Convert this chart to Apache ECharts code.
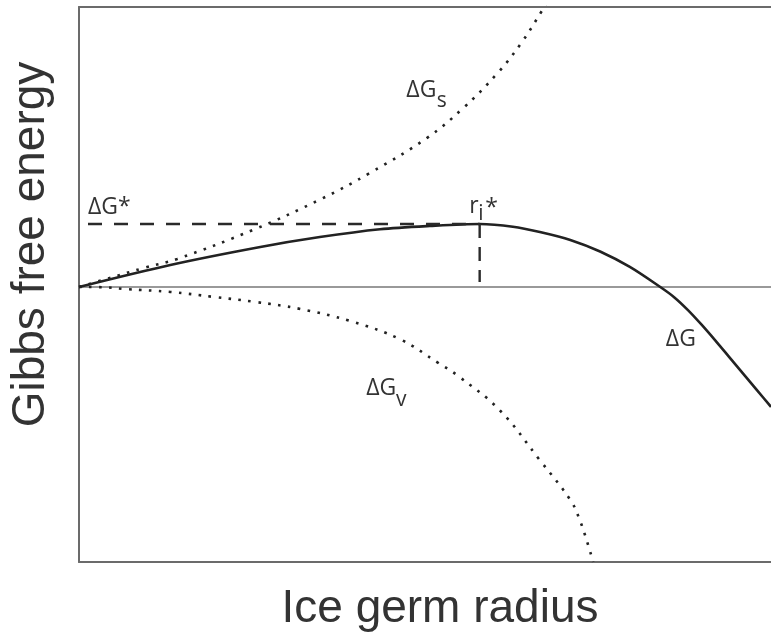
<!DOCTYPE html>
<html>
<head>
<meta charset="utf-8">
<script src="https://cdn.jsdelivr.net/npm/echarts@6/dist/echarts.min.js"></script>
<style>
  html, body { margin: 0; padding: 0; background: #fff; }
  #chart { width: 771px; height: 633px; }
</style>
</head>
<body>
<div id="chart"></div>
<script>
// Ice germ radius (arbitrary units) and Gibbs free energy terms (arbitrary units)
const surfaceR = [0, 3.5, 9.5, 14.2, 25.4, 35, 42, 50.3, 55.5, 60.5, 64, 66.9, 67.8];
const surfaceG = [0, 1.3, 3.5, 5.1, 10.5, 16, 20.7, 27.1, 32.5, 38.9, 44.5, 50.2, 52];

const volumeR = [0, 3.5, 7, 13.2, 19.4, 25.4, 32, 39.2, 46.4, 51.9, 54.6, 60.8, 66.6, 71.1, 72.4, 73.4, 74.3];
const volumeG = [0, -0.05, -0.4, -0.9, -1.8, -2.7, -4.0, -6.2, -9.5, -13.8, -16, -22.4, -31.5, -38.9, -42.5, -46.2, -50];

const totalR = [0, 13.2, 26.2, 34.8, 43.5, 50.7, 57.9, 62.7, 66.6, 71.0, 75.3, 79.6, 84, 86, 88, 90, 92, 94, 96, 98, 100];
const totalG = [0, 4.0, 7.27, 9.07, 10.49, 11.09, 11.45, 10.96, 10.0, 8.56, 6.45, 3.65, 0, -1.85, -4.2, -6.9, -9.8, -12.8, -15.8, -18.8, -21.8];

// critical radius and barrier height
const critR = 57.9;
const critG = 11.45;
const barrierStartR = 1.3;
const dashBottomG = 0.9;

const xMin = 0, xMax = 100;
const yMin = -50, yMax = 50.9;

const pairs = (xs, ys) => xs.map((x, i) => [x, ys[i]]);

const chart = echarts.init(document.getElementById('chart'), null, { renderer: 'canvas' });

const frame = { show: true, onZero: false, lineStyle: { color: '#6b6b6b', width: 2 } };
const ink = '#222';

chart.setOption({
  animation: false,
  backgroundColor: '#fff',
  grid: { left: 79, right: 0, top: 7, bottom: 71, containLabel: false, outerBoundsMode: 'none' },
  xAxis: [
    {
      type: 'value', min: xMin, max: xMax, position: 'bottom',
      axisLine: frame, axisTick: { show: false }, axisLabel: { show: false }, splitLine: { show: false },
      name: 'Ice germ radius', nameLocation: 'middle', nameGap: 24,
      nameTextStyle: { fontFamily: 'Liberation Sans', fontSize: 46, color: '#333', padding: [0, 0, 0, 30] }
    },
    {
      type: 'value', min: xMin, max: xMax, position: 'top',
      axisLine: frame, axisTick: { show: false }, axisLabel: { show: false }, splitLine: { show: false }
    }
  ],
  yAxis: {
    type: 'value', min: yMin, max: yMax,
    axisLine: frame, axisTick: { show: false }, axisLabel: { show: false }, splitLine: { show: false },
    name: 'Gibbs free energy', nameLocation: 'middle', nameGap: 25,
    nameTextStyle: { fontFamily: 'Liberation Sans', fontSize: 46, color: '#333', padding: [0, 0, 0, 80] }
  },
  series: [
    {
      name: 'zero', type: 'line', data: [[xMin, 0], [xMax, 0]], symbol: 'none',
      lineStyle: { color: '#777', width: 1.5 }, silent: true, z: 1
    },
    {
      name: 'ΔGs', type: 'line', data: pairs(surfaceR, surfaceG), smooth: 0.4, symbol: 'none',
      lineStyle: { color: ink, width: 2.6, type: [2.6, 7.4] }
    },
    {
      name: 'ΔGv', type: 'line', data: pairs(volumeR, volumeG), smooth: 0.4, symbol: 'none',
      lineStyle: { color: ink, width: 2.6, type: [2.6, 7.4] }
    },
    {
      name: 'ΔG', type: 'line', data: pairs(totalR, totalG), smooth: 0.3, symbol: 'none',
      lineStyle: { color: ink, width: 2.6 }
    },
    {
      name: 'barrier', type: 'line', data: [[barrierStartR, critG], [critR, critG]], symbol: 'none',
      lineStyle: { color: '#2a2a2a', width: 2.4, type: [14, 12] }
    },
    {
      name: 'radius', type: 'line', data: [[critR, critG], [critR, dashBottomG]], symbol: 'none',
      lineStyle: { color: '#2a2a2a', width: 2.4, type: [14, 9] }
    }
  ]
});

// annotation labels anchored in data coordinates
const labelFont = { fontFamily: 'Open Sans', fontSize: 23, fill: '#333' };
const subFont = { fontFamily: 'Open Sans', fontSize: 21, fill: '#333' };
const annotations = [
  { text: 'ΔG*', at: [barrierStartR, 12.3], style: labelFont },
  { text: 'ΔG', at: [47.3, 33.7], style: labelFont },
  { text: 's', at: [51.7, 31.9], style: subFont },
  { text: 'ΔG', at: [41.5, -20.6], style: labelFont },
  { text: 'v', at: [45.8, -22.5], style: subFont },
  { text: 'ΔG', at: [84.8, -11.7], style: labelFont },
  { text: 'r', at: [56.4, 12.6], style: labelFont },
  { text: 'i', at: [57.7, 11.4], style: subFont },
  { text: '*', at: [58.7, 16.4], style: labelFont, top: true }
];
chart.setOption({
  graphic: annotations.map(a => {
    const p = chart.convertToPixel({ xAxisIndex: 0, yAxisIndex: 0 }, a.at);
    return {
      type: 'text', x: p[0], y: p[1], silent: true,
      style: Object.assign({ text: a.text, textAlign: 'left', textVerticalAlign: a.top ? 'top' : 'bottom' }, a.style)
    };
  })
});
</script>
</body>
</html>
